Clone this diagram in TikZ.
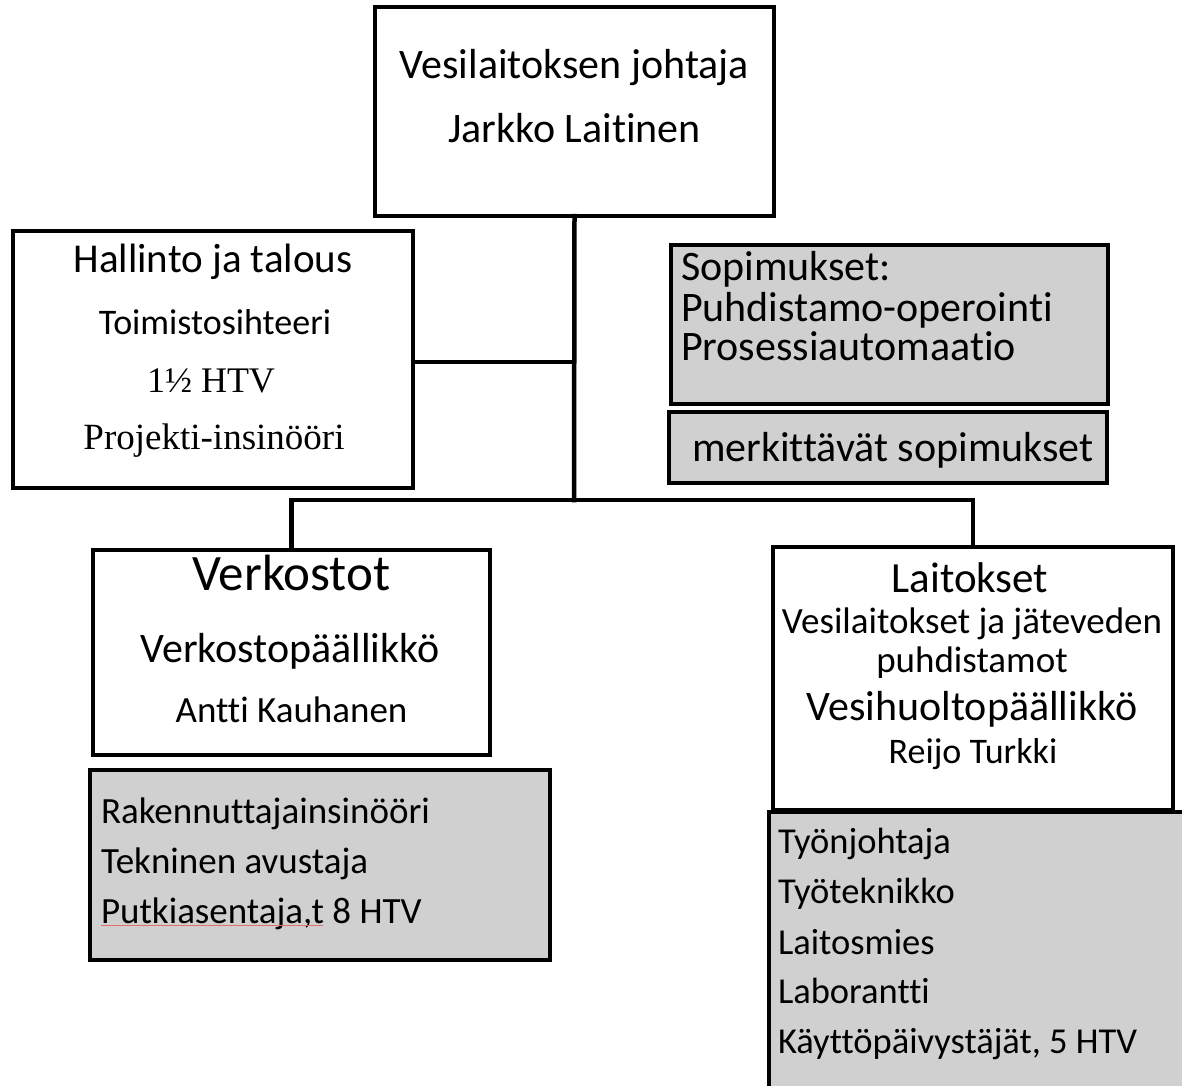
\documentclass[tikz,border=0pt]{standalone}
\usepackage{fontspec}
\setmainfont{Carlito}[Ligatures=NoCommon]
\newfontfamily\tnr{Liberation Serif}
\definecolor{boxgray}{RGB}{208,208,208}
\definecolor{squig}{RGB}{225,110,110}
\newcommand{\fs}[1]{\fontsize{#1}{#1}\selectfont}
\begin{document}
\begin{tikzpicture}[x=1pt,y=-1pt,
  box/.style={draw=black,line width=4.5pt,inner sep=0pt,outer sep=0pt,rectangle,fill=white},
  graybox/.style={box,fill=boxgray},
  conn/.style={draw=black,line width=4.5pt,line cap=rect},
  txt/.style={inner sep=0pt,outer sep=0pt,anchor=base},
  ltxt/.style={inner sep=0pt,outer sep=0pt,anchor=base west}]
\clip (0,0) rectangle (1182,1085);
\fill[white] (0,0) rectangle (1182,1085);
% boxes
\node[box,minimum width=399pt,minimum height=209pt] (top) at (574.5,111.5) {};
\node[box,minimum width=400pt,minimum height=257pt] (hal) at (213,359.5) {};
\node[graybox,minimum width=437pt,minimum height=159pt] (sop) at (889.5,324.5) {};
\node[graybox,minimum width=438pt,minimum height=71pt] (merk) at (888,447.5) {};
\node[box,minimum width=397pt,minimum height=205pt] (verk) at (291.5,652.5) {};
\node[graybox,minimum width=460pt,minimum height=190pt] (rak) at (320,865) {};
\node[box,minimum width=400pt,minimum height=263pt] (lait) at (973,678.5) {};
\node[graybox,minimum width=440pt,minimum height=300pt] (tyo) at (989,962) {};
% connectors
\coordinate (j1) at (574,362);
\coordinate (j2) at (574,500);
\draw[conn] (top.south) -- (j2);
\draw[conn] (hal.east |- j1) -- (j1);
\draw[conn] (verk.north) |- (j2) -| (lait.north);
% texts: top
\node[txt] (t1) at (574.5,78) {\fs{42}Vesilaitoksen johtaja};
\node[txt] (t2) at (574.5,142) {\fs{42}Jarkko Laitinen};
% hallinto
\node[txt] (h1) at (213,272) {\fs{41}Hallinto ja talous};
\node[txt] (h2) at (215,334) {\fs{36}Toimistosihteeri};
\node[txt] (h3) at (211,392) {\tnr\fs{36}1½ HTV};
\node[txt] (h4) at (214,449) {\tnr\fs{37}Projekti-insinööri};
% sopimukset
\node[ltxt] (s1) at (681,280) {\fs{42}Sopimukset:};
\node[ltxt] (s2) at (681,321) {\fs{42}Puhdistamo-operointi};
\node[ltxt] (s3) at (681,360) {\fs{42}Prosessiautomaatio};
\node[ltxt] (m1) at (692,461) {\fs{42}merkittävät sopimukset};
% verkostot
\node[txt] (v1) at (291.5,590) {\fs{51}Verkostot};
\node[txt] (v2) at (290,662) {\fs{42}Verkostopäällikkö};
\node[txt] (v3) at (291.5,722) {\fs{37}Antti Kauhanen};
% rakennuttaja
\node[ltxt] (r1) at (101,823) {\fs{37}Rakennuttajainsinööri};
\node[ltxt] (r2) at (101,873) {\fs{37}Tekninen avustaja};
\node[ltxt] (r3) at (101,923) {\fs{37}Putkiasentaja,t 8 HTV};
\draw[squig,line width=1.2pt] (101,925.5) -- (323,925.5);
% laitokset
\node[txt] (l1) at (970,592) {\fs{43}Laitokset};
\node[txt] (l2) at (972,633) {\fs{37}Vesilaitokset ja jäteveden};
\node[txt] (l3) at (972,672) {\fs{37}puhdistamot};
\node[txt] (l4) at (972,720) {\fs{42}Vesihuoltopäällikkö};
\node[txt] (l5) at (973,763) {\fs{36}Reijo Turkki};
% tyo
\node[ltxt] (w1) at (778,853) {\fs{36.5}Työnjohtaja};
\node[ltxt] (w2) at (778,903) {\fs{36.5}Työteknikko};
\node[ltxt] (w3) at (778,954) {\fs{36.5}Laitosmies};
\node[ltxt] (w4) at (778,1003) {\fs{36.5}Laborantti};
\node[ltxt] (w5) at (778,1053) {\fs{36.5}Käyttöpäivystäjät, 5 HTV};
\end{tikzpicture}
\end{document}
